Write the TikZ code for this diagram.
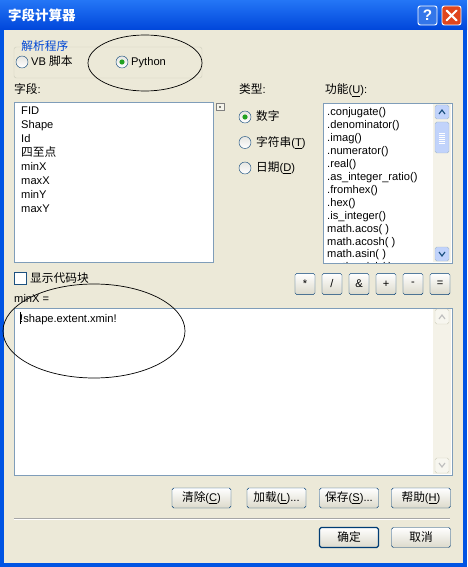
\documentclass[tikz,border=0pt]{standalone}
\usepackage{fontspec}
\setmainfont{Liberation Sans}
\newfontfamily\cjk{Noto Sans CJK SC}
\usetikzlibrary{shapes.geometric,positioning}
\definecolor{winbg}{RGB}{236,233,216}
\definecolor{xpblue}{RGB}{0,84,227}
\definecolor{titletop}{RGB}{36,118,246}
\definecolor{titlebot}{RGB}{0,70,218}
\definecolor{boxline}{RGB}{127,157,185}
\definecolor{btnline}{RGB}{0,60,116}
\definecolor{grouptxt}{RGB}{0,70,213}
\definecolor{groupline}{RGB}{208,208,191}
\definecolor{radioline}{RGB}{28,81,128}
\definecolor{radiogreen}{RGB}{33,161,33}
\definecolor{scrollblue}{RGB}{193,211,251}
\definecolor{closered}{RGB}{224,70,30}
\newcommand{\zh}[1]{{\cjk\fontsize{10}{11}\selectfont #1}}
\tikzstyle{lbl} = [anchor=base west, inner sep=0pt,
  font=\fontsize{9.5}{11}\selectfont]
\tikzstyle{btn} = [draw=btnline, rounded corners=1.5pt,
  top color=white, bottom color=winbg!85!gray,
  minimum width=1.77cm, minimum height=0.6cm, inner sep=0pt,
  font=\fontsize{9.5}{11}\selectfont]
\tikzstyle{opbtn} = [btn, minimum width=0.6cm, minimum height=0.64cm]
\tikzstyle{radio} = [circle, draw=radioline, inner sep=0pt,
  top color=winbg!60!gray!40, bottom color=white, minimum size=0.36cm]
\tikzstyle{capbtn} = [draw=white, rounded corners=2pt, line width=0.8pt,
  minimum size=0.57cm, inner sep=0pt, text=white,
  font=\bfseries\fontsize{13}{14}\selectfont]
\tikzstyle{listbox} = [draw=boxline, fill=white]

\begin{document}
\begin{tikzpicture}[x=0.03cm,y=-0.03cm]
\useasboundingbox (0,0) rectangle (467,567);
% frame and title bar
\fill[xpblue] (0,0) rectangle (467,567);
\shade[top color=titletop, bottom color=titlebot] (0,0) rectangle (467,30);
\fill[winbg] (4,30) rectangle (463,563);
\node[anchor=west, inner sep=0pt, text=white,
  font=\cjk\bfseries\fontsize{11.5}{13}\selectfont] (title) at (8,15) {字段计算器};
\node[capbtn, fill=xpblue!80!white] (help) at (427.5,15.5) {?};
\node[capbtn, fill=closered] (close) at (451.5,15.5) {};
\draw[white, line width=1.8pt, line cap=round]
  (446.5,10.5) -- (456.5,20.5) (446.5,20.5) -- (456.5,10.5);

% parser group
\draw[groupline, rounded corners=2pt] (14,47) rectangle (202,78);
\node[lbl, fill=winbg, text=grouptxt, inner xsep=1pt] (parser) at (20,51) {\zh{解析程序}};
\node[radio] (r-vb) at (22,62) {};
\node[lbl] (vb) at (31,66) {VB \zh{脚本}};
\node[radio] (r-py) at (122,62) {};
\fill[radiogreen] (r-py.center) circle (2.6);
\node[lbl] (py) at (131,66) {Python};
\draw[line width=0.6pt] (145,63) ellipse [x radius=57, y radius=28];

% field list
\node[lbl] (fields) at (14,94) {\zh{字段}:};
\draw[listbox] (14,102) rectangle (213,262);
\draw[gray, fill=winbg!50!white] (216,103) rectangle (224,110);
\fill[black] (220,107) circle (0.8);
\foreach \X [count=\Y] in {FID,Shape,Id,\zh{四至点},minX,maxX,minY,maxY}
  \node[lbl] (F-\Y) at (21,{115+14*(\Y-1)}) {\X};

% type
\node[lbl] (types) at (239,94) {\zh{类型}:};
\foreach \X [count=\Y] in {\zh{数字},\zh{字符串}(\underline{T}),\zh{日期}(\underline{D})}
  {\node[radio] (R-\Y) at (245,{117+25.5*(\Y-1)}) {};
   \node[lbl] (T-\Y) at (256,{121+25.5*(\Y-1)}) {\X};}
\fill[radiogreen] (R-1.center) circle (2.6);

% function list
\node[lbl] (funcs) at (325,94) {\zh{功能}(\underline{U}):};
\draw[listbox] (323,103) rectangle (452,263);
\begin{scope}
\clip (324,104) rectangle (433,262);
\foreach \X [count=\Y] in {.conjugate(),.denominator(),.imag(),.numerator(),
  .real(),.as\_integer\_ratio(),.fromhex(),.hex(),.is\_integer(),
  math.acos( ),math.acosh( ),math.asin( ),math.asinh( )}
  \node[lbl] (U-\Y) at (327,{116+12.9*(\Y-1)}) {\X};
\end{scope}
\fill[winbg!60!white] (433,104) rectangle (451,262);
\draw[boxline!70!white, fill=scrollblue, rounded corners=1.5pt] (435,105) rectangle (449,119);
\draw[radioline, line width=1pt] (439,114) -- (442,110) -- (445,114);
\draw[boxline!70!white, fill=scrollblue, rounded corners=1.5pt] (435,122) rectangle (449,153);
\foreach \Y in {133,135,137,139,141,143}
  \draw[white] (439,\Y) -- (445,\Y);
\draw[boxline!70!white, fill=scrollblue, rounded corners=1.5pt] (435,247) rectangle (449,261);
\draw[radioline, line width=1pt] (439,252) -- (442,256) -- (445,252);

% code block checkbox and operators
\draw[radioline, fill=white] (14,272) rectangle (26,284);
\node[lbl] (codeblk) at (30,282) {\zh{显示代码块}};
\foreach \X [count=\Y] in {*,/,\&,+,-,=}
  \node[opbtn] (O-\Y) at ({305+27*(\Y-1)},284) {\X};

% expression box
\node[lbl] (expr) at (14,302) {minX =};
\draw[listbox] (14,308) rectangle (452,475);
\node[lbl] (code) at (20,322) {!shape.extent.xmin!};
\draw[black] (20.5,312) -- (20.5,324);
\fill[winbg!60!white] (433,309) rectangle (451,474);
\draw[groupline, fill=winbg!40!white, rounded corners=1.5pt] (435,309) rectangle (449,324);
\draw[gray!50, line width=1pt] (439,319) -- (442,315) -- (445,319);
\draw[groupline, fill=winbg!40!white, rounded corners=1.5pt] (435,458) rectangle (449,473);
\draw[gray!50, line width=1pt] (439,463) -- (442,467) -- (445,463);
\draw[line width=0.6pt] (94,331) ellipse [x radius=91, y radius=47];

% buttons
\node[btn] (clear) at (201.5,498) {\zh{清除}(\underline{C})};
\node[btn] (load) at (276.5,498) {\zh{加载}(\underline{L})...};
\node[btn] (save) at (349,498) {\zh{保存}(\underline{S})...};
\node[btn] (helpbtn) at (421,498) {\zh{帮助}(\underline{H})};
\draw[gray!70] (14,518) -- (450,518);
\draw[white] (14,519) -- (450,519);
\node[btn, line width=1pt] (ok) at (349,537.5) {\zh{确定}};
\node[btn] (cancel) at (421,537.5) {\zh{取消}};
\end{tikzpicture}
\end{document}
